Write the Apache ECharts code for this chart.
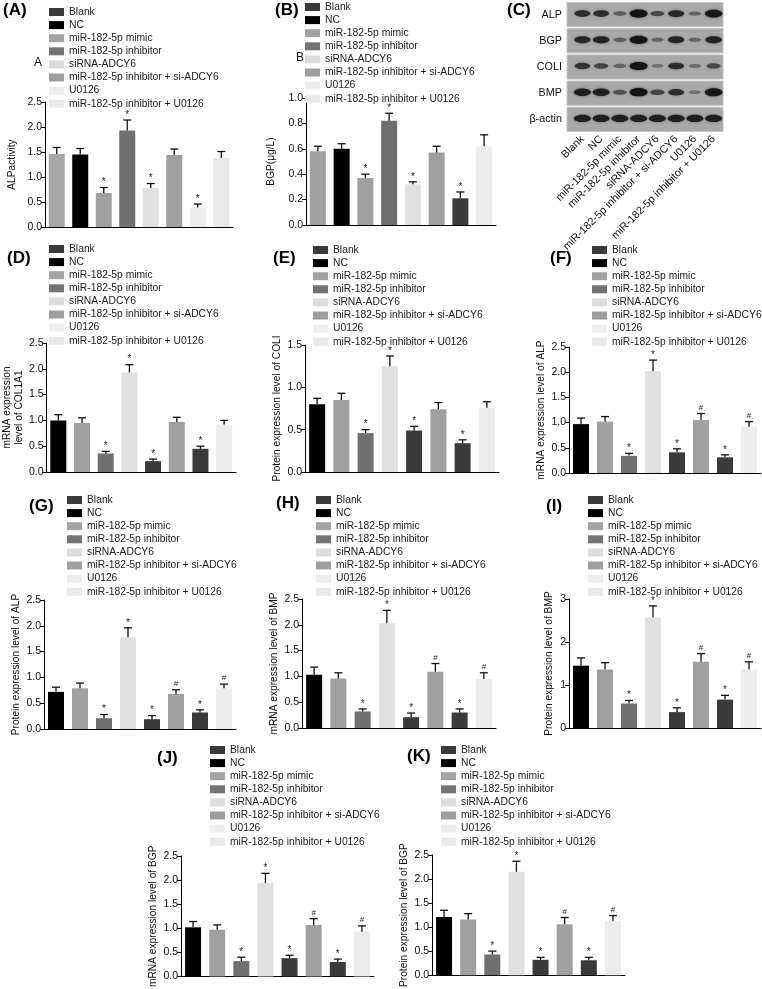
<!DOCTYPE html>
<html><head><meta charset="utf-8">
<script src="https://cdn.jsdelivr.net/npm/echarts@6/dist/echarts.min.js"></script>
<style>html,body{margin:0;padding:0;background:#fff}#c{width:762px;height:989px}</style>
</head><body><div id="c"></div>
<script>
// ---------- DATA ----------
const groups = ['Blank','NC','miR-182-5p mimic','miR-182-5p inhibitor','siRNA-ADCY6','miR-182-5p inhibitor + si-ADCY6','U0126','miR-182-5p inhibitor + U0126'];

const alpActivity      = [1.46,1.45,0.68,1.93,0.78,1.44,0.39,1.38];
const alpActivityUpper = [1.59,1.57,0.79,2.14,0.87,1.56,0.46,1.51];
const bgpLevel         = [0.58,0.60,0.37,0.82,0.32,0.57,0.21,0.62];
const bgpLevelUpper    = [0.62,0.64,0.40,0.88,0.34,0.62,0.26,0.71];
const col1a1Mrna       = [1.00,0.95,0.36,1.93,0.21,0.97,0.45,0.92];
const col1a1MrnaUpper  = [1.11,1.05,0.40,2.08,0.25,1.06,0.50,1.00];
const coliProtein      = [0.80,0.85,0.46,1.25,0.49,0.74,0.34,0.76];
const coliProteinUpper = [0.87,0.93,0.50,1.37,0.54,0.82,0.38,0.83];
const alpMrna          = [0.97,1.02,0.34,2.02,0.41,1.05,0.31,0.92];
const alpMrnaUpper     = [1.09,1.12,0.39,2.24,0.48,1.18,0.36,1.02];
const alpProtein       = [0.72,0.79,0.21,1.78,0.19,0.68,0.32,0.79];
const alpProteinUpper  = [0.81,0.89,0.28,1.96,0.26,0.76,0.37,0.87];
const bmpMrna          = [1.03,0.96,0.32,2.03,0.21,1.09,0.30,0.95];
const bmpMrnaUpper     = [1.18,1.07,0.37,2.28,0.29,1.25,0.37,1.07];
const bmpProtein       = [1.45,1.36,0.57,2.57,0.37,1.54,0.66,1.36];
const bmpProteinUpper  = [1.63,1.52,0.64,2.84,0.47,1.73,0.76,1.54];
const bgpMrna          = [1.02,0.97,0.32,1.94,0.38,1.07,0.30,0.93];
const bgpMrnaUpper     = [1.14,1.07,0.40,2.14,0.44,1.20,0.36,1.05];
const bgpProtein       = [1.21,1.16,0.43,2.15,0.32,1.06,0.31,1.12];
const bgpProteinUpper  = [1.35,1.28,0.50,2.37,0.37,1.20,0.37,1.24];

const marksStar     = ['','','*','*','*','','*',''];
const marksStarHash = ['','','*','*','*','#','*','#'];

const blotRows = ['ALP','BGP','COLI','BMP','β-actin'];
const blotALP  = [0.70,0.70,0.30,1.00,0.45,0.75,0.25,0.95];
const blotBGP  = [0.75,0.80,0.30,1.00,0.25,0.75,0.25,0.80];
const blotCOLI = [0.65,0.50,0.25,1.00,0.15,0.70,0.20,0.45];
const blotBMP  = [0.85,0.85,0.40,1.00,0.50,0.70,0.15,0.95];
const blotACT  = [0.85,0.85,0.85,0.85,0.85,0.85,0.85,0.85];

// ---------- STYLE ----------
const FONT = 'Liberation Sans, Arial, Helvetica, sans-serif';
const FS = 10.3;
const legendColors = ['#3a3a3a','#000000','#a3a3a3','#737373','#dcdcdc','#9e9e9e','#ededed','#e9e9e9'];
const colorsA  = ['#a6a6a6','#000000','#a0a0a0','#707070','#e0e0e0','#a0a0a0','#eeeeee','#e8e8e8'];
const colorsB  = ['#a0a0a0','#000000','#a0a0a0','#707070','#e0e0e0','#a0a0a0','#3a3a3a','#ececec'];
const colorsDK = ['#000000','#a0a0a0','#707070','#e0e0e0','#3a3a3a','#a0a0a0','#3a3a3a','#ececec'];

const panels = [
 {letter:'(A)', lx:3,   ly:11,  vals:alpActivity, up:alpActivityUpper, marks:marksStar, max:2.5, step:0.5, dec:1, name:'ALPactivity', colors:colorsA, grid:{left:45,top:102,width:188,height:125}, gap:27, leg:{left:49,top:6.5}},
 {letter:'(B)', lx:275, ly:11,  vals:bgpLevel, up:bgpLevelUpper, marks:marksStar, max:1.0, step:0.2, dec:1, name:'BGP(μg/L)', colors:colorsB, grid:{left:306,top:98,width:190,height:127}, gap:29, leg:{left:305,top:1.5}},
 {letter:'(D)', lx:7,   ly:259, vals:col1a1Mrna, up:col1a1MrnaUpper, marks:marksStar, max:2.5, step:0.5, dec:1, name:'mRNA expression\nlevel of COL1A1', colors:colorsDK, grid:{left:44,top:343,width:192,height:129}, gap:17, leg:{left:49,top:243.5}},
 {letter:'(E)', lx:273, ly:259, vals:coliProtein, up:coliProteinUpper, marks:marksStar, max:1.5, step:0.5, dec:1, name:'Protein expression level of COLI', colors:colorsDK, grid:{left:305,top:345,width:194,height:127}, gap:22, leg:{left:313,top:244.5}},
 {letter:'(F)', lx:550, ly:259, vals:alpMrna, up:alpMrnaUpper, marks:marksStarHash, max:2.5, step:0.5, dec:1, name:'mRNA expression level of ALP', colors:colorsDK, grid:{left:569,top:347,width:192,height:126}, gap:19, leg:{left:592,top:244.5}},
 {letter:'(G)', lx:29,  ly:507, vals:alpProtein, up:alpProteinUpper, marks:marksStarHash, max:2.5, step:0.5, dec:1, name:'Protein expression level of ALP', colors:colorsDK, grid:{left:44,top:600,width:192,height:129}, gap:22, leg:{left:67,top:494.5}},
 {letter:'(H)', lx:276, ly:504, vals:bmpMrna, up:bmpMrnaUpper, marks:marksStarHash, max:2.5, step:0.5, dec:1, name:'mRNA expression level of BMP', colors:colorsDK, grid:{left:302,top:599,width:194,height:129}, gap:19, leg:{left:316,top:494.5}},
 {letter:'(I)', lx:546, ly:507, vals:bmpProtein, up:bmpProteinUpper, marks:marksStarHash, max:3, step:1, dec:0, name:'Protein expression level of BMP', colors:colorsDK, grid:{left:569,top:599,width:192,height:129}, gap:14, leg:{left:588,top:494.5}},
 {letter:'(J)', lx:157, ly:759, vals:bgpMrna, up:bgpMrnaUpper, marks:marksStarHash, max:2.5, step:0.5, dec:1, name:'mRNA expression level of BGP', colors:colorsDK, grid:{left:181,top:856,width:193,height:127}, gap:17, leg:{left:210,top:744.5}},
 {letter:'(K)', lx:407, ly:757, vals:bgpProtein, up:bgpProteinUpper, marks:marksStarHash, max:2.5, step:0.5, dec:1, name:'Protein expression level of BGP', colors:colorsDK, grid:{left:432,top:855,width:193,height:128}, gap:22, leg:{left:441,top:744.5}}
];

const grids = [], xAxes = [], yAxes = [], series = [], legends = [], graphics = [];

panels.forEach((p, k) => {
  grids.push(Object.assign({containLabel:false}, p.grid));
  xAxes.push({type:'category', gridIndex:k, data:groups, axisLine:{lineStyle:{color:'#000',width:1}}, axisTick:{show:false}, axisLabel:{show:false}});
  yAxes.push({type:'value', gridIndex:k, min:0, max:p.max, interval:p.step,
    axisLine:{show:true, lineStyle:{color:'#000',width:1}}, axisTick:{show:true,length:4,lineStyle:{color:'#000'}},
    axisLabel:{fontSize:10.5, color:'#111', fontFamily:FONT, margin:3, formatter:v=>v.toFixed(p.dec)},
    splitLine:{show:false},
    name:p.name, nameLocation:'middle', nameGap:p.gap,
    nameTextStyle:{fontSize:10.2, color:'#111', fontFamily:FONT, lineHeight:12}});
  series.push({type:'bar', xAxisIndex:k, yAxisIndex:k, barWidth:16, silent:true,
    data:p.vals.map((v,i)=>({value:v, itemStyle:{color:p.colors[i]}}))});
  const marks = p.marks;
  series.push({type:'custom', xAxisIndex:k, yAxisIndex:k, z:5, silent:true,
    data:p.vals.map((v,i)=>[i, v, p.up[i]]),
    renderItem:(params, api) => {
      const i = api.value(0);
      const a = api.coord([i, api.value(1)]);
      const b = api.coord([i, api.value(2)]);
      const ch = [
        {type:'line', shape:{x1:a[0],y1:a[1],x2:a[0],y2:b[1]}, style:{stroke:'#111',lineWidth:1.3}},
        {type:'line', shape:{x1:a[0]-4,y1:b[1],x2:a[0]+4,y2:b[1]}, style:{stroke:'#111',lineWidth:1.3}}
      ];
      const m = marks[params.dataIndex];
      if (m) ch.push({type:'text', style:{text:m, x:a[0], y:b[1]-(m==='*'?0:2), align:'center', verticalAlign:'bottom', fontSize:m==='*'?10:8, fontFamily:FONT, fill:'#222'}});
      return {type:'group', children:ch};
    }});
  legends.push({left:p.leg.left, top:p.leg.top, orient:'vertical', padding:0, itemGap:2.1, itemWidth:15, itemHeight:8,
    icon:'rect', selectedMode:false, data:groups,
    textStyle:{fontSize:FS, lineHeight:11, color:'#222', fontFamily:FONT}});
  graphics.push({type:'text', left:p.lx, top:p.ly-9, style:{text:p.letter, font:'bold 17px '+FONT, fill:'#000'}});
});

// legend colour carriers
groups.forEach((g, j) => {
  series.push({type:'scatter', name:g, xAxisIndex:0, yAxisIndex:0, data:[], itemStyle:{color:legendColors[j], opacity:1}});
});

// ---------- Western blot (C) ----------
const bk = panels.length;
grids.push({left:573, top:1.5, width:150, height:131});
xAxes.push({type:'category', gridIndex:bk, data:groups, axisLine:{show:false}, axisTick:{show:false},
  axisLabel:{interval:0, rotate:45, fontSize:10.8, color:'#111', fontFamily:FONT, margin:5}});
yAxes.push({type:'category', gridIndex:bk, data:blotRows, inverse:true, axisLine:{show:false}, axisTick:{show:false},
  axisLabel:{fontSize:10.8, color:'#111', fontFamily:FONT, margin:11}, splitLine:{show:false}});
const blotAll = [blotALP, blotBGP, blotCOLI, blotBMP, blotACT];
const blotData = [];
blotAll.forEach((row, r) => row.forEach((v, l) => blotData.push([l, r, v])));
series.push({type:'custom', xAxisIndex:bk, yAxisIndex:bk, silent:true, data:blotData,
  renderItem:(params, api) => {
    const l = api.value(0), r = api.value(1), v = api.value(2);
    const c = api.coord([l, r]);
    const sz = api.size([1, 1]);
    const cs = params.coordSys;
    const ch = [];
    if (l === 0) {
      ch.push({type:'rect', shape:{x:cs.x-6, y:c[1]-sz[1]/2+1, width:cs.width+6, height:sz[1]-2},
        style:{fill:'#a9a9a9', stroke:'#c4c4c4', lineWidth:1}});
    }
    ch.push({type:'ellipse', shape:{cx:c[0], cy:c[1]-1, rx:5.5+3.5*v, ry:1.5+2.6*v},
      style:{fill:'#141414', opacity:0.25+0.75*v, shadowBlur:3, shadowColor:'rgba(20,20,20,'+(0.6*v).toFixed(2)+')'}});
    return {type:'group', children:ch};
  }});
graphics.push({type:'text', left:507, top:2, style:{text:'(C)', font:'bold 17px '+FONT, fill:'#000'}});
graphics.push({type:'text', left:34, top:57, style:{text:'A', font:'12px '+FONT, fill:'#111'}});
graphics.push({type:'text', left:296, top:52, style:{text:'B', font:'12px '+FONT, fill:'#111'}});

const chart = echarts.init(document.getElementById('c'), null, {renderer:'canvas'});
chart.setOption({
  animation:false, backgroundColor:'#fff',
  grid:grids, xAxis:xAxes, yAxis:yAxes, series:series, legend:legends, graphic:graphics
});
</script></body></html>
